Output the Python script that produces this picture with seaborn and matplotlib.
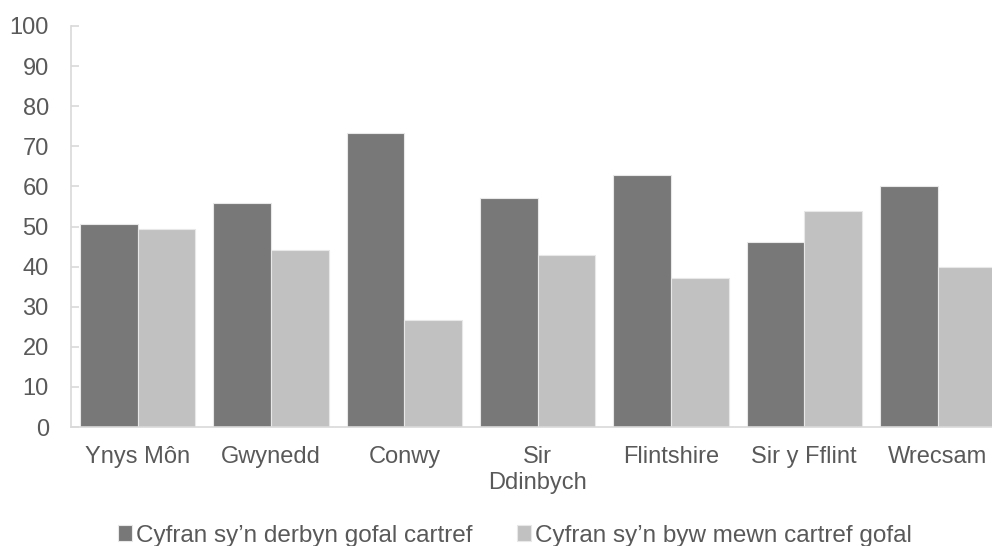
import seaborn as sns
import pandas as pd
import matplotlib.pyplot as plt

# data
siroedd = ["Ynys Môn", "Gwynedd", "Conwy", "Sir\nDdinbych", "Flintshire", "Sir y Fflint", "Wrecsam"]
gofal_cartref = [50.5, 55.8, 73.2, 57.0, 62.9, 46.2, 60.0]
cartref_gofal = [49.5, 44.2, 26.8, 43.0, 37.1, 53.8, 40.0]
cyfres = ["Cyfran sy\u2019n derbyn gofal cartref", "Cyfran sy\u2019n byw mewn cartref gofal"]
lliwiau = ["#787878", "#c1c1c1"]

df = pd.DataFrame({
    "sir": siroedd * 2,
    "gwerth": gofal_cartref + cartref_gofal,
    "cyfres": [cyfres[0]] * len(siroedd) + [cyfres[1]] * len(siroedd),
})

sns.set_style("white")
plt.rcParams["font.family"] = ["Liberation Sans", "DejaVu Sans"]

fig = plt.figure(figsize=(9.92, 5.46), dpi=100)
ax = fig.add_axes([71 / 992, 119 / 546, 933.3 / 992, 401 / 546])

sns.barplot(data=df, x="sir", y="gwerth", hue="cyfres", palette=lliwiau,
            width=0.865, gap=0, edgecolor="#e8e8e8", linewidth=0.8,
            saturation=1, ax=ax)

ax.set_ylim(0, 100)
ax.set_yticks(range(0, 101, 10))
ax.set_xlim(-0.5, len(siroedd) - 0.5)
ax.set_xlabel("")
ax.set_ylabel("")

for s in ["top", "right"]:
    ax.spines[s].set_visible(False)
for s in ["left", "bottom"]:
    ax.spines[s].set_color("#d9d9d9")
    ax.spines[s].set_linewidth(1.2)

ax.tick_params(axis="y", direction="in", length=6, width=1.2, color="#d9d9d9",
               pad=16, labelsize=17, labelcolor="#595959", left=True)
ax.tick_params(axis="x", length=0, pad=14, labelsize=17, labelcolor="#595959")

handles, labels = ax.get_legend_handles_labels()
ax.get_legend().remove()
fig.legend(handles, labels, loc="lower center", bbox_to_anchor=(0.519, -0.041),
           ncol=2, frameon=False, fontsize=17.5, labelcolor="#595959",
           handlelength=0.6, handleheight=0.6, handletextpad=0.17,
           columnspacing=1.8)

fig.savefig("out.png", dpi=100)
